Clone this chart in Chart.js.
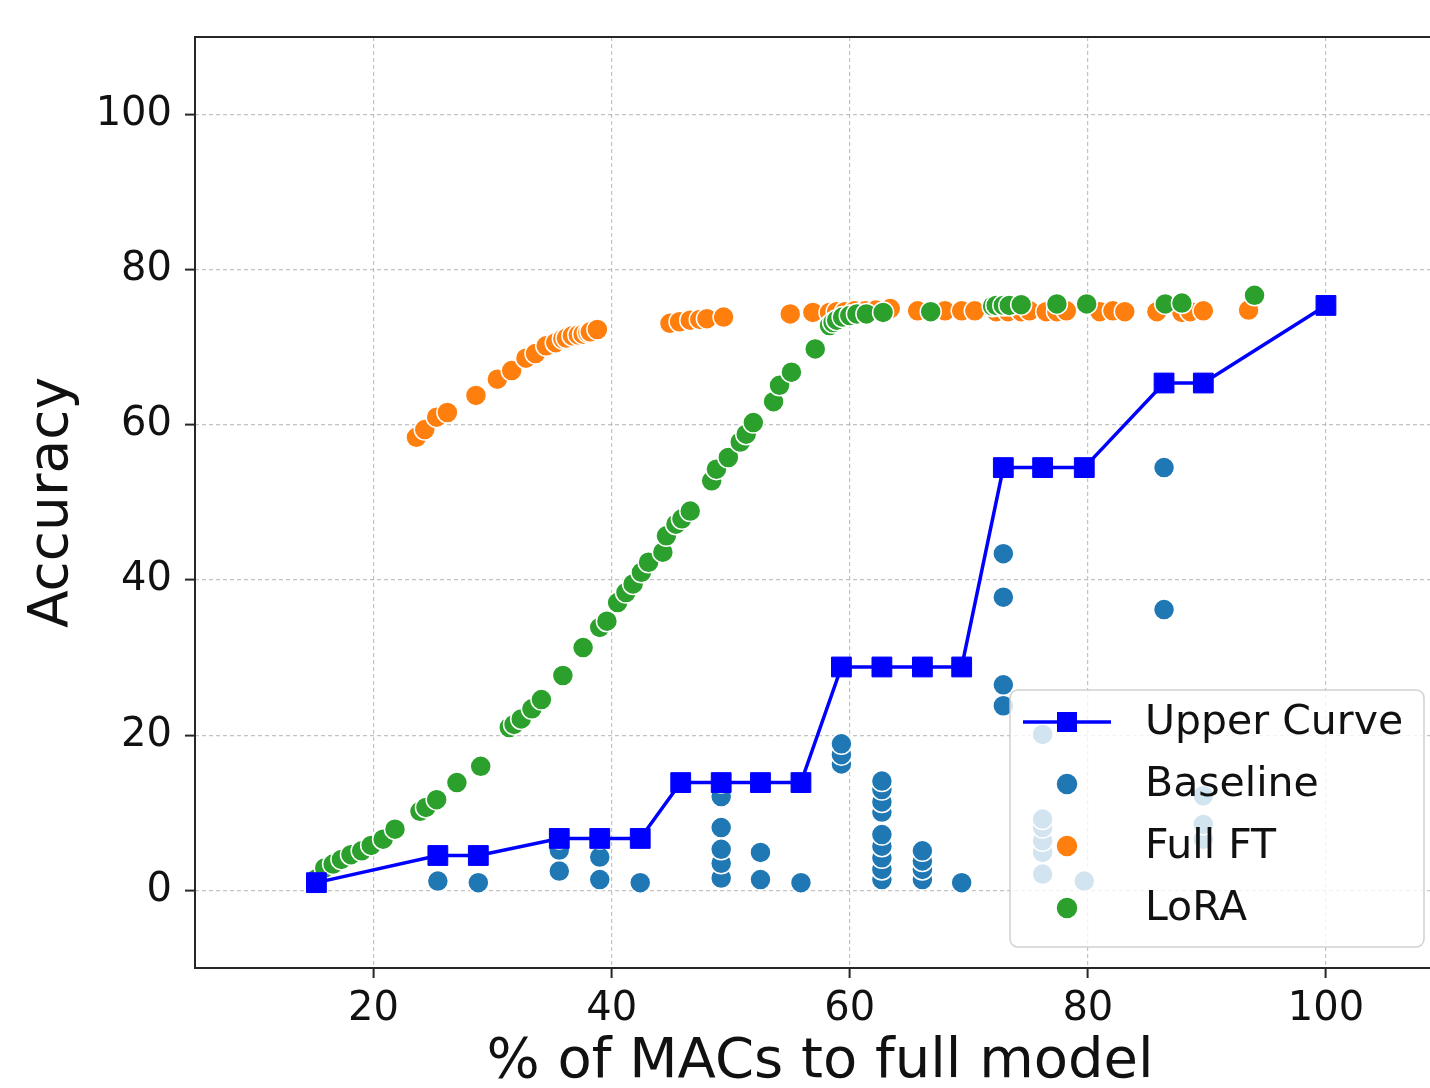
<!DOCTYPE html>
<html lang="en">
<head>
  <meta charset="UTF-8">
  <title>Accuracy vs MACs</title>
  <script src="https://cdn.jsdelivr.net/npm/chart.js"></script>
  <style>
    html, body { margin: 0; padding: 0; background: #fff; overflow: hidden; }
    #chartCanvas { display: block; }
  </style>
</head>
<body>
  <canvas id="chartCanvas" width="1460" height="1100"></canvas>

  <script>
    // tick labels
    const xTicks = [20, 40, 60, 80, 100];
    const yTicks = [0, 20, 40, 60, 80, 100];

    // Upper Curve (max of baseline at each MAC level)
    const upperX = [15.2, 25.4, 28.8, 35.6, 39.0, 42.4, 45.8, 49.2, 52.5, 55.9, 59.3, 62.7, 66.1, 69.4, 72.9, 76.2, 79.7, 86.4, 89.7, 100];
    const upperY = [1.0, 4.5, 4.5, 6.7, 6.7, 6.7, 13.9, 13.9, 13.9, 13.9, 28.8, 28.8, 28.8, 28.8, 54.5, 54.5, 54.5, 65.4, 65.4, 75.4];

    // Baseline
    const baseX = [15.2, 25.4, 25.4, 28.8, 28.8, 35.6, 35.6, 35.6, 39.0, 39.0, 39.0, 42.4, 42.4, 45.8,
      49.2, 49.2, 49.2, 49.2, 49.2, 49.2, 52.5, 52.5, 52.5, 55.9, 55.9,
      59.3, 59.3, 59.3, 59.3, 62.7, 62.7, 62.7, 62.7, 62.7, 62.7, 62.7, 62.7, 62.7, 62.7,
      66.1, 66.1, 66.1, 66.1, 66.1, 69.4, 69.4, 72.9, 72.9, 72.9, 72.9, 72.9,
      76.2, 76.2, 76.2, 76.2, 76.2, 76.2, 76.2, 79.7, 79.7, 86.4, 86.4, 86.4, 89.7, 89.7, 89.7, 89.7, 100];
    const baseY = [1.0, 1.2, 4.5, 1.0, 4.5, 2.5, 5.2, 6.7, 1.4, 4.3, 6.7, 1.0, 6.7, 13.9,
      1.6, 3.5, 5.3, 8.1, 12.1, 13.9, 1.4, 4.9, 13.9, 1.0, 13.9,
      16.3, 17.5, 18.9, 28.8, 1.4, 2.7, 4.2, 5.7, 7.2, 10.1, 11.4, 13.0, 14.1, 28.8,
      1.4, 2.7, 3.8, 5.1, 28.8, 1.0, 28.8, 23.8, 26.5, 37.8, 43.4, 54.5,
      2.1, 4.9, 6.4, 8.1, 9.2, 20.1, 54.5, 1.2, 54.5, 36.2, 54.5, 65.4, 6.6, 8.5, 12.2, 65.4, 75.4];

    // Full FT
    const fullX = [23.6, 24.3, 25.3, 26.2, 28.6, 30.4, 31.6, 32.8, 33.6, 34.5, 35.3, 35.9, 36.2, 36.7, 37.2, 37.6, 38.0, 38.2, 38.8,
      44.9, 45.7, 46.6, 47.4, 48.0, 49.4,
      55.0, 56.9, 58.3, 58.9, 59.6, 60.4, 61.3, 62.2, 63.4, 65.7, 68.0, 69.4, 70.5, 72.3, 73.3, 74.4, 75.1, 76.5,
      77.4, 78.2, 81.0, 82.1, 83.1, 85.8, 87.9, 88.6, 89.7, 93.5];
    const fullY = [58.4, 59.4, 61.0, 61.6, 63.8, 65.9, 67.0, 68.6, 69.2, 70.2, 70.6, 71.1, 71.2, 71.5, 71.6, 71.7, 71.9, 72.0, 72.3,
      73.1, 73.3, 73.5, 73.6, 73.7, 73.9,
      74.3, 74.5, 74.5, 74.6, 74.6, 74.7, 74.7, 74.8, 75.0, 74.7, 74.7, 74.7, 74.7, 74.6, 74.6, 74.6, 74.7, 74.6,
      74.6, 74.7, 74.6, 74.7, 74.6, 74.6, 74.5, 74.6, 74.7, 74.8];

    // LoRA
    const loraX = [15.2, 15.9, 16.6, 17.3, 18.1, 19.0, 19.8, 20.8, 21.8, 23.9, 24.4, 25.3, 27.0, 29.0,
      31.4, 31.8, 32.4, 33.3, 34.1, 35.9, 37.6, 39.0, 39.6, 40.5, 41.2, 41.8, 42.5, 43.1, 44.3, 44.6,
      45.4, 45.9, 46.6, 48.4, 48.8, 49.8, 50.8, 51.3, 51.9, 53.6, 54.1, 55.1, 57.1,
      58.3, 58.6, 58.9, 59.4, 60.0, 60.6, 61.4, 62.8, 66.8, 72.0, 72.3, 72.9, 73.4, 74.4, 77.4, 79.9, 86.5, 87.9, 94.0];
    const loraY = [1.5, 2.9, 3.4, 4.0, 4.6, 5.1, 5.8, 6.6, 7.9, 10.2, 10.7, 11.7, 13.9, 16.0,
      21.0, 21.4, 22.1, 23.4, 24.6, 27.7, 31.3, 33.9, 34.7, 37.1, 38.4, 39.5, 41.0, 42.3, 43.6, 45.7,
      47.2, 47.9, 48.9, 52.8, 54.3, 55.8, 57.8, 58.8, 60.3, 63.0, 65.1, 66.8, 69.8,
      72.8, 73.2, 73.5, 73.9, 74.1, 74.3, 74.3, 74.5, 74.6, 75.3, 75.4, 75.4, 75.4, 75.5, 75.6, 75.6, 75.6, 75.7, 76.7];

    const toPoints = (xs, ys) => xs.map((x, i) => ({ x: x, y: ys[i] }));

    const FONT = '"DejaVu Sans", sans-serif';

    // axes frame + legend inside the plot (matplotlib style)
    const frameAndLegend = {
      id: 'frameAndLegend',
      beforeDatasetsDraw(chart) {
        const { ctx, chartArea: a } = chart;
        ctx.save();
        ctx.strokeStyle = '#262626';
        ctx.lineWidth = 2;
        ctx.strokeRect(a.left, a.top, a.right - a.left, a.bottom - a.top);
        ctx.restore();
      },
      afterDatasetsDraw(chart) {
        const { ctx, chartArea: a } = chart;
        const w = 414, h = 257;
        const left = a.right - 21 - w, top = a.bottom - 21 - h;
        ctx.save();
        ctx.beginPath();
        ctx.roundRect(left, top, w, h, 8);
        ctx.fillStyle = 'rgba(255,255,255,0.8)';
        ctx.fill();
        ctx.strokeStyle = 'rgba(204,204,204,0.9)';
        ctx.lineWidth = 1.5;
        ctx.stroke();

        const entries = [
          { label: 'Upper Curve', color: '#0000ff', line: true },
          { label: 'Baseline', color: '#1f77b4' },
          { label: 'Full FT', color: '#ff7f0e' },
          { label: 'LoRA', color: '#2ca02c' }
        ];
        entries.forEach((e, i) => {
          const y = top + 32 + i * 62;
          const mx = left + 57;
          if (e.line) {
            ctx.strokeStyle = e.color;
            ctx.lineWidth = 3.5;
            ctx.beginPath();
            ctx.moveTo(left + 13, y);
            ctx.lineTo(left + 101, y);
            ctx.stroke();
            ctx.fillStyle = e.color;
            ctx.fillRect(mx - 10, y - 10, 20, 20);
          } else {
            ctx.beginPath();
            ctx.arc(mx, y, 11, 0, Math.PI * 2);
            ctx.fillStyle = e.color;
            ctx.fill();
            ctx.strokeStyle = '#fff';
            ctx.lineWidth = 1.5;
            ctx.stroke();
          }
          ctx.fillStyle = '#111';
          ctx.font = '41px ' + FONT;
          ctx.textAlign = 'left';
          ctx.textBaseline = 'middle';
          ctx.fillText(e.label, left + 135, y + 1);
        });
        ctx.restore();
      }
    };

    const dotStyle = (color) => ({
      backgroundColor: color,
      borderColor: '#ffffff',
      borderWidth: 1.5,
      pointRadius: 10.5,
      pointHoverRadius: 10.5,
      showLine: false
    });

    const gridOpts = {
      color: 'rgba(170,170,170,0.7)',
      lineWidth: 1.2,
      drawTicks: true,
      tickLength: 10,
      tickWidth: 2,
      tickColor: '#262626'
    };

    const ctx = document.getElementById('chartCanvas').getContext('2d');
    new Chart(ctx, {
      type: 'scatter',
      data: {
        datasets: [
          {
            label: 'Upper Curve',
            data: toPoints(upperX, upperY),
            showLine: true,
            borderColor: '#0000ff',
            backgroundColor: '#0000ff',
            borderWidth: 3.5,
            pointStyle: 'rect',
            pointRadius: 14,
            pointBorderWidth: 1,
            order: 0
          },
          Object.assign({ label: 'LoRA', data: toPoints(loraX, loraY), order: 1 }, dotStyle('#2ca02c')),
          Object.assign({ label: 'Full FT', data: toPoints(fullX, fullY), order: 2 }, dotStyle('#ff7f0e')),
          Object.assign({ label: 'Baseline', data: toPoints(baseX, baseY), order: 3 }, dotStyle('#1f77b4'))
        ]
      },
      options: {
        responsive: false,
        animation: false,
        layout: { padding: { left: 0, top: 37, right: 15, bottom: 0 } },
        plugins: {
          legend: { display: false },
          tooltip: { enabled: false }
        },
        scales: {
          x: {
            type: 'linear',
            min: 5,
            max: 110,
            afterBuildTicks: (axis) => { axis.ticks = xTicks.map(v => ({ value: v })); },
            afterFit: (axis) => { axis.height = 132; },
            grid: gridOpts,
            border: { display: false, dash: [4, 3] },
            ticks: {
              color: '#111',
              padding: 8,
              maxRotation: 0,
              font: { family: FONT, size: 40 }
            },
            title: {
              display: true,
              text: '% of MACs to full model',
              color: '#111',
              font: { family: FONT, size: 56 },
              padding: { top: 0, bottom: 4 }
            }
          },
          y: {
            type: 'linear',
            min: -10,
            max: 110,
            afterBuildTicks: (axis) => { axis.ticks = yTicks.map(v => ({ value: v })); },
            afterFit: (axis) => { axis.width = 195; },
            grid: gridOpts,
            border: { display: false, dash: [4, 3] },
            ticks: {
              color: '#111',
              padding: 13,
              font: { family: FONT, size: 40 }
            },
            title: {
              display: true,
              text: 'Accuracy',
              color: '#111',
              font: { family: FONT, size: 55 },
              padding: { top: 20, bottom: 0 }
            }
          }
        }
      },
      plugins: [frameAndLegend]
    });
  </script>
</body>
</html>
